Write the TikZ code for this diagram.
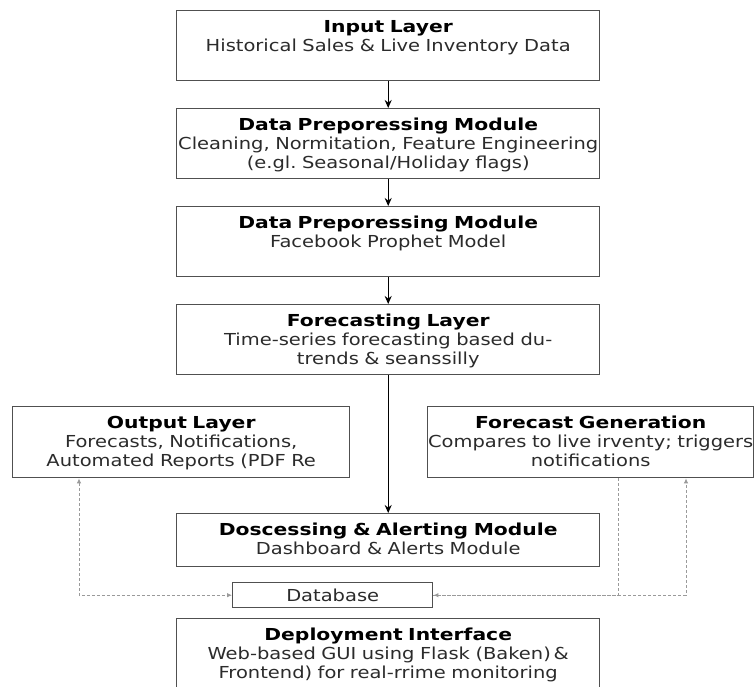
\documentclass[tikz,border=0pt]{standalone}
\usepackage{fontspec}
\setmainfont{DejaVu Sans}[UprightFeatures={FakeStretch=1.18}, BoldFeatures={FakeStretch=1.23}]
\usetikzlibrary{arrows.meta}
\frenchspacing

\definecolor{boxgray}{HTML}{505050}
\definecolor{linkgray}{HTML}{9A9A9A}
\definecolor{textgray}{HTML}{2B2B2B}

% bold black heading line inside a box
\newcommand{\ttl}[1]{\textcolor{black}{\bfseries #1}}

\begin{document}
\begin{tikzpicture}[x=1pt, y=-1pt, >={Stealth[length=8pt,width=7pt]},
    box/.style={draw=boxgray, line width=1.4pt, anchor=north west, align=center,
        text width=#1, inner xsep=0pt, inner ysep=6pt, text height=16pt,
        text=textgray, font=\fontsize{16.5}{19}\selectfont},
    tall/.style={text depth=42pt},
    flow/.style={->, line width=1.2pt},
    link/.style={draw=linkgray, line width=0.9pt, dash pattern=on 3pt off 2pt},
    dbtip/.tip={Latex[length=5pt,width=4.5pt]}]

    % Parameters
    \def\colx{176} % left edge of the main column
    \def\colw{423} % width of the main column

    \fill[white] (0,0) rectangle (755,687);
    \useasboundingbox (0,0) rectangle (755,687);

    % Main column
    \node[box=\colw, tall] (inp) at (\colx,10)
        {\ttl{Input Layer}\\Historical Sales \& Live Inventory Data};
    \node[box=\colw, tall] (prep) at (\colx,108)
        {\ttl{Data Preporessing Module}\\Cleaning, Normitation, Feature Engineering\\(e.gl. Seasonal/Holiday flags)};
    \node[box=\colw, tall] (model) at (\colx,206)
        {\ttl{Data Preporessing Module}\\Facebook Prophet Model};
    \node[box=\colw, tall] (fcst) at (\colx,304)
        {\ttl{Forecasting Layer}\\Time-series forecasting based du-\\trends \& seanssilly};

    % Side boxes
    \node[box=337, text depth=43pt] (out) at (12,406)
        {\ttl{Output Layer}\\Forecasts, Notifications,\\Automated Reports (PDF Re};
    \node[box=326, text depth=43pt] (gen) at (427,406)
        {\ttl{Forecast Generation}\\Compares to live irventy; triggers\\notifications};

    % Lower boxes
    \node[box=\colw, text depth=25pt] (alert) at (\colx,513)
        {\ttl{Doscessing \& Alerting Module}\\Dashboard \& Alerts Module};
    \node[draw=boxgray, line width=1.4pt, anchor=north west, minimum width=200pt,
        minimum height=25pt, inner sep=0pt, text=textgray,
        font=\fontsize{16.5}{19}\selectfont] (db) at (232,582) {Database};
    \node[box=\colw, text depth=60pt] (deploy) at (\colx,618)
        {\ttl{Deployment Interface}\\Web-based GUI using Flask (Baken)\,\&\\Frontend) for real-rrime monitoring};

    % Flow arrows
    \draw[flow] (inp) -- (prep);
    \draw[flow] (prep) -- (model);
    \draw[flow] (model) -- (fcst);
    \draw[flow] (fcst) -- (alert);

    % Database links
    \coordinate (ll) at (79,595);
    \coordinate (rl) at (618,595);
    \coordinate (rr) at (686,595);
    \draw[link, dbtip-dbtip] (out.south -| ll) |- (db.west);
    \draw[link, -dbtip] (gen.south -| rl) |- (db.east);
    \draw[link, -dbtip] (db.east) -| (gen.south -| rr);

\end{tikzpicture}
\end{document}
